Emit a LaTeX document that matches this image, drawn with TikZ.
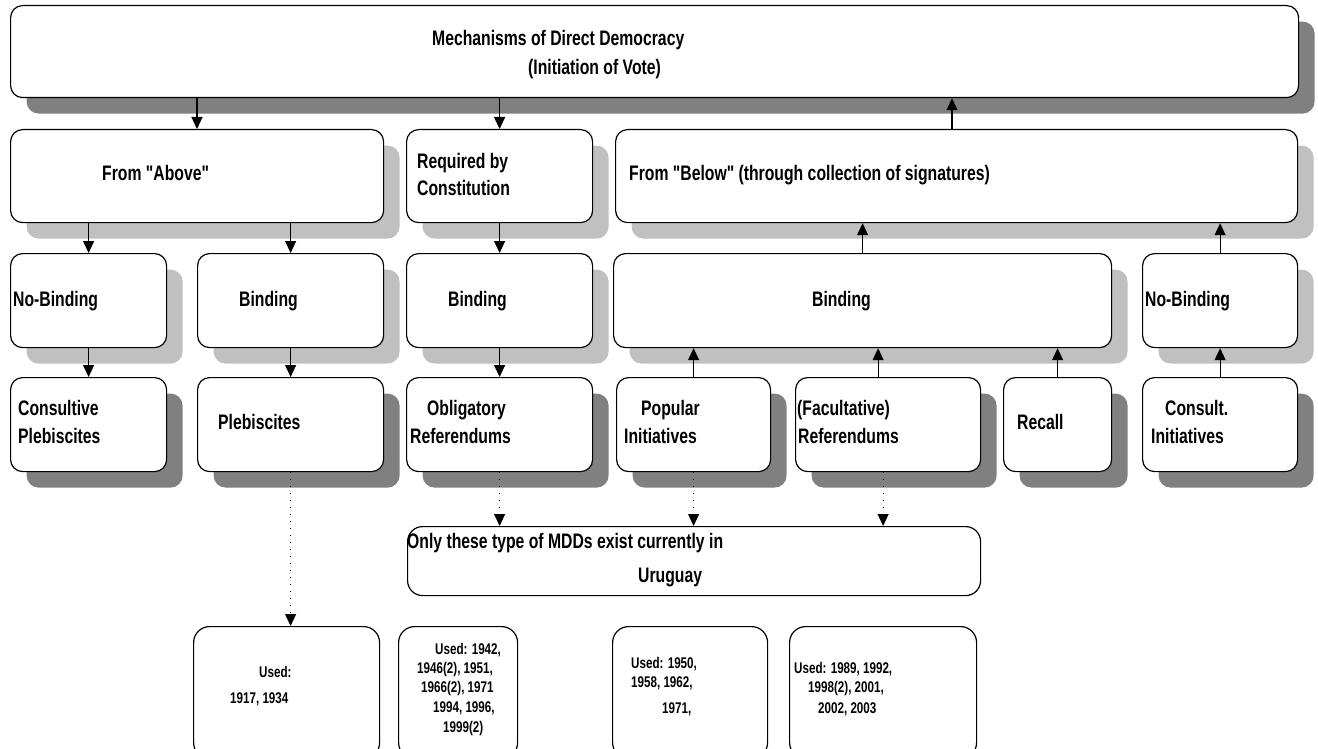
\documentclass[tikz,border=0pt]{standalone}
\usepackage{fontspec}
\setmainfont{Liberation Sans}[FakeStretch=0.75,Ligatures=TeXOff]
\usetikzlibrary{arrows.meta,shadows}
\definecolor{shlight}{HTML}{C0C0C0}
\definecolor{shdark}{HTML}{808080}
\tikzset{
  box/.style={draw=black, line width=1.2pt, fill=white, rounded corners=12pt, anchor=north west, inner sep=0pt},
  lsh/.style={drop shadow={shadow xshift=16pt, shadow yshift=-16pt, fill=shlight, opacity=1}},
  dsh/.style={drop shadow={shadow xshift=16pt, shadow yshift=-16pt, fill=shdark, opacity=1}},
  txt/.style={anchor=base west, inner sep=0pt, font=\fontsize{21}{25}\selectfont\bfseries},
  stxt/.style={anchor=base west, inner sep=0pt, font=\fontsize{15.5}{18}\selectfont\bfseries},
  arr/.style={line width=1.1pt, -{Triangle[length=12pt,width=11pt]}},
  darr/.style={line width=1.1pt, dash pattern=on 1pt off 6pt, -{Triangle[length=12pt,width=11pt]}},
}
\begin{document}
\begin{tikzpicture}[x=1pt,y=-1pt]
\useasboundingbox (0,0) rectangle (1318,749);
\clip (0,0) rectangle (1318,749);
% top
\node[box,dsh,minimum width=1288pt,minimum height=92pt] (top) at (10,5) {};
% row 2
\node[box,lsh,minimum width=373pt,minimum height=93pt] (above) at (10,129) {};
\node[box,lsh,minimum width=186pt,minimum height=93pt] (req) at (406,129) {};
\node[box,lsh,minimum width=682pt,minimum height=93pt] (below) at (615,129) {};
% row 3
\node[box,lsh,minimum width=156pt,minimum height=94pt] (nb1) at (10,253) {};
\node[box,lsh,minimum width=186pt,minimum height=94pt] (b1) at (197,253) {};
\node[box,lsh,minimum width=186pt,minimum height=94pt] (b2) at (406,253) {};
\node[box,lsh,minimum width=498pt,minimum height=94pt] (b3) at (613,253) {};
\node[box,lsh,minimum width=155pt,minimum height=94pt] (nb2) at (1142,253) {};
% row 4
\node[box,dsh,minimum width=156pt,minimum height=94pt] (cp) at (10,377) {};
\node[box,dsh,minimum width=186pt,minimum height=94pt] (pl) at (197,377) {};
\node[box,dsh,minimum width=186pt,minimum height=94pt] (ob) at (406,377) {};
\node[box,dsh,minimum width=154pt,minimum height=94pt] (pi) at (616,377) {};
\node[box,dsh,minimum width=185pt,minimum height=94pt] (fr) at (795,377) {};
\node[box,dsh,minimum width=108pt,minimum height=94pt] (rc) at (1003,377) {};
\node[box,dsh,minimum width=155pt,minimum height=94pt] (ci) at (1142,377) {};
% MDD box
\node[box,rounded corners=15pt,minimum width=573pt,minimum height=69pt] (mdd) at (407,526) {};
% bottom boxes
\node[box,rounded corners=16pt,minimum width=186pt,minimum height=132pt] (u1) at (193,626) {};
\node[box,rounded corners=16pt,minimum width=119pt,minimum height=132pt] (u2) at (398,626) {};
\node[box,rounded corners=16pt,minimum width=155pt,minimum height=132pt] (u3) at (612,626) {};
\node[box,rounded corners=16pt,minimum width=187pt,minimum height=132pt] (u4) at (789,626) {};

% texts
\node[txt] (t1) at (432,46) {Mechanisms of Direct Democracy};
\node[txt] (t2) at (528,75) {(Initiation of Vote)};
\node[txt] (t3) at (102,181) {From "Above"};
\node[txt] (t4) at (417,168) {Required by};
\node[txt] (t5) at (417,196) {Constitution};
\node[txt] (t6) at (629,181) {From "Below" (through collection of signatures)};
\node[txt] (t7) at (13,306) {No-Binding};
\node[txt] (t8) at (239,306) {Binding};
\node[txt] (t9) at (448,306) {Binding};
\node[txt] (t10) at (812,306) {Binding};
\node[txt] (t11) at (1145,306) {No-Binding};
\node[txt] (t12) at (18,415) {Consultive};
\node[txt] (t13) at (18,443) {Plebiscites};
\node[txt] (t14) at (218,429) {Plebiscites};
\node[txt] (t15) at (427,415) {Obligatory};
\node[txt] (t16) at (410,443) {Referendums};
\node[txt] (t17) at (641,415) {Popular};
\node[txt] (t18) at (624,443) {Initiatives};
\node[txt] (t19) at (797,415) {(Facultative)};
\node[txt] (t20) at (798,443) {Referendums};
\node[txt] (t21) at (1017,429) {Recall};
\node[txt] (t22) at (1165,415) {Consult.};
\node[txt] (t23) at (1151,443) {Initiatives};
\node[txt] (t24) at (407,548) {Only these type of MDDs exist currently in};
\node[txt] (t25) at (638,582) {Uruguay};
\node[stxt] (s1) at (259,677) {Used:};
\node[stxt] (s2) at (230,703) {1917, 1934};
\node[stxt] (s3) at (435,654) {Used: 1942,};
\node[stxt] (s4) at (417,673) {1946(2), 1951,};
\node[stxt] (s5) at (421,692) {1966(2), 1971};
\node[stxt] (s6) at (433,712) {1994, 1996,};
\node[stxt] (s7) at (443,732) {1999(2)};
\node[stxt] (s8) at (631,668) {Used: 1950,};
\node[stxt] (s9) at (631,687) {1958, 1962,};
\node[stxt] (s10) at (662,713) {1971,};
\node[stxt] (s11) at (794,673) {Used: 1989, 1992,};
\node[stxt] (s12) at (808,692) {1998(2), 2001,};
\node[stxt] (s13) at (818,713) {2002, 2003};

% solid connectors
\draw[arr] ([xshift=187pt]top.south west) -- ([xshift=187pt]top.south west |- above.north);
\draw[arr] (req.north |- top.south) -- (req.north);
\draw[arr] ([xshift=337pt]below.north west) -- ([xshift=337pt]below.north west |- top.south);
\draw[arr] (nb1.north |- above.south) -- (nb1.north);
\draw[arr] (b1.north |- above.south) -- (b1.north);
\draw[arr] (req.south) -- (b2.north);
\draw[arr] (nb1.south) -- (cp.north);
\draw[arr] (b1.south) -- (pl.north);
\draw[arr] (b2.south) -- (ob.north);
\draw[arr] (b3.north) -- (b3.north |- below.south);
\draw[arr] (nb2.north) -- (nb2.north |- below.south);
\draw[arr] (pi.north) -- (pi.north |- b3.south);
\draw[arr] ([xshift=-10pt]fr.north) -- ([xshift=-10pt]fr.north |- b3.south);
\draw[arr] (rc.north) -- (rc.north |- b3.south);
\draw[arr] (ci.north) -- (nb2.south);
% dotted connectors
\draw[darr] (pl.south) -- (pl.south |- u1.north);
\draw[darr] (ob.south) -- (ob.south |- mdd.north);
\draw[darr] (pi.south) -- (pi.south |- mdd.north);
\draw[darr] ([xshift=-5pt]fr.south) -- ([xshift=-5pt]fr.south |- mdd.north);
\end{tikzpicture}
\end{document}
